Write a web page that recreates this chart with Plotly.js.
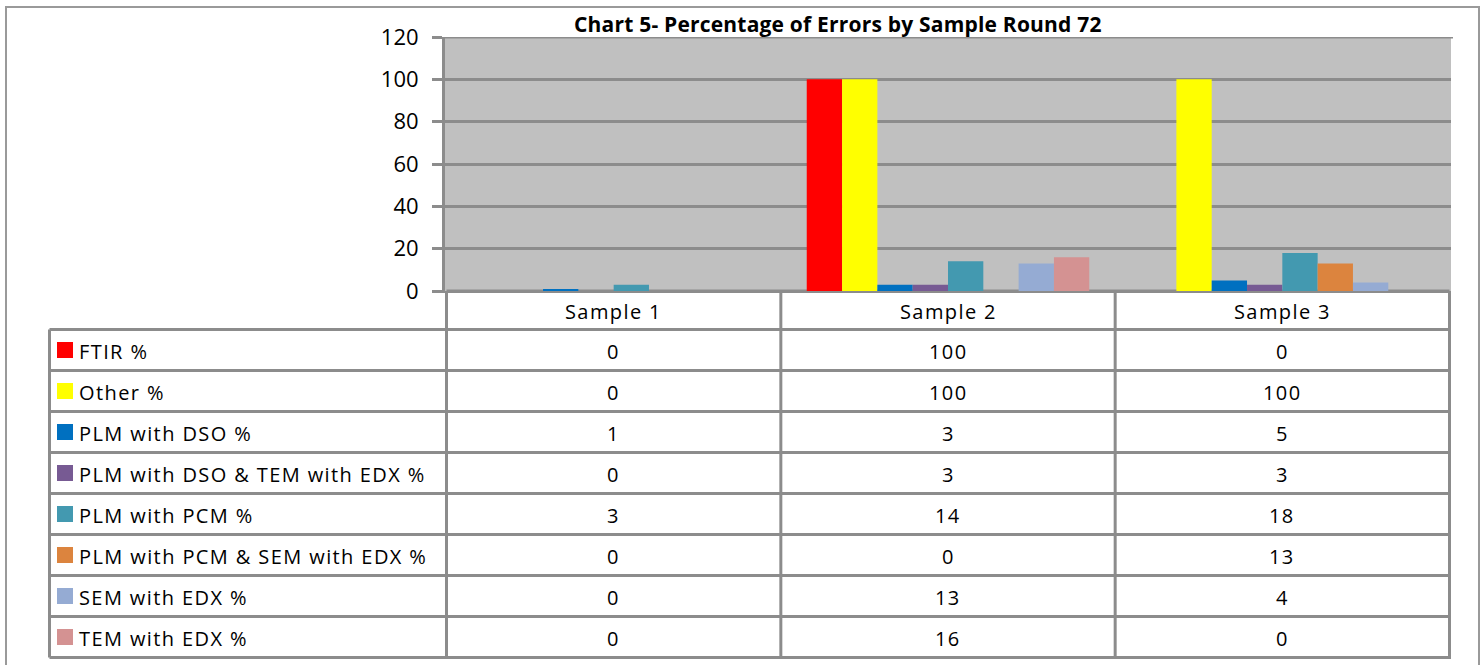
<!DOCTYPE html>
<html>
<head>
<meta charset="utf-8">
<script src="https://cdn.plot.ly/plotly-3.0.1.min.js"></script>
<style>
html,body{margin:0;padding:0;background:#fff;}
#chart{width:1482px;height:665px;}
.annotation-text{letter-spacing:1.4px;}
</style>
</head>
<body>
<div id="chart"></div>
<script>
const chartTitle = 'Chart 5- Percentage of Errors by Sample Round 72';
const categories = ['Sample 1', 'Sample 2', 'Sample 3'];
const seriesNames = [
  'FTIR %',
  'Other %',
  'PLM with DSO %',
  'PLM with DSO & TEM with EDX %',
  'PLM with PCM %',
  'PLM with PCM & SEM with EDX %',
  'SEM with EDX %',
  'TEM with EDX %'
];
const ftir = [0, 100, 0];
const other = [0, 100, 100];
const plmDso = [1, 3, 5];
const plmDsoTem = [0, 3, 3];
const plmPcm = [3, 14, 18];
const plmPcmSem = [0, 0, 13];
const semEdx = [0, 13, 4];
const temEdx = [0, 16, 0];
const seriesValues = [ftir, other, plmDso, plmDsoTem, plmPcm, plmPcmSem, semEdx, temEdx];
const yTicks = [0, 20, 40, 60, 80, 100, 120];

const colors = ['#FF0000', '#FFFF00', '#0070C0', '#775A93', '#4399B0', '#DC843E', '#95ABD3', '#D49292'];

const FIG_W = 1482, FIG_H = 665;
const L = 445, R = 1451, T = 37, B = 291;
const W = R - L, H = B - T;
const px = x => (x - L) / W;
const py = y => (B - y) / H;
const LINE = '#8C8C8C';
const FONT = 'Open Sans, Liberation Sans, sans-serif';

const traces = seriesNames.map((name, i) => ({
  type: 'bar',
  name: name,
  x: categories,
  y: seriesValues[i],
  marker: {color: colors[i], line: {width: 0}},
  hoverinfo: 'x+y+name'
}));

const shapes = [];
const annotations = [];

// title
annotations.push({xref: 'paper', yref: 'paper', x: px(838), y: py(24),
  text: '<span style="letter-spacing:0.2px"><b>' + chartTitle + '</b></span>', showarrow: false,
  xanchor: 'center', yanchor: 'middle', font: {family: FONT, size: 21, color: '#000'}});

// outer chart border
shapes.push({type: 'rect', xref: 'paper', yref: 'paper', x0: px(6), x1: px(1479), y0: py(7), y1: py(672),
  line: {color: '#9A9A9A', width: 2}, fillcolor: 'rgba(0,0,0,0)', layer: 'below'});

// top gridline at 120
shapes.push({type: 'line', xref: 'paper', yref: 'y', x0: px(435), x1: px(1453), y0: 120, y1: 120,
  line: {color: LINE, width: 3}});

// zero line: part below the bars, part below the plot edge
shapes.push({type: 'line', xref: 'x', yref: 'y', x0: -0.5, x1: categories.length - 0.5, y0: 0, y1: 0,
  line: {color: LINE, width: 3}, layer: 'below'});
shapes.push({type: 'line', xref: 'paper', yref: 'paper', x0: px(435), x1: px(R), y0: py(B + 1), y1: py(B + 1),
  line: {color: LINE, width: 2}});

// table
const headerTop = B, headerBot = 329.5, rowH = 41;
const tableBottom = headerBot + rowH * seriesNames.length;
const legendLeft = 49.5;

for (let i = 0; i <= seriesNames.length; i++) {
  const yy = headerBot + rowH * i;
  shapes.push({type: 'line', xref: 'paper', yref: 'paper', x0: px(legendLeft), x1: px(R), y0: py(yy), y1: py(yy), line: {color: LINE, width: 3}});
}
shapes.push({type: 'line', xref: 'paper', yref: 'paper', x0: px(legendLeft), x1: px(legendLeft), y0: py(headerBot), y1: py(tableBottom), line: {color: LINE, width: 3}});
for (let k = 0; k <= categories.length; k++) {
  shapes.push({type: 'line', xref: 'x', yref: 'paper', x0: k - 0.5, x1: k - 0.5, y0: py(headerTop + 1.5), y1: py(tableBottom), line: {color: LINE, width: 3}});
}

categories.forEach((c, j) => {
  annotations.push({xref: 'x', yref: 'paper', x: j, y: py((headerTop + headerBot) / 2 + 1), text: c, showarrow: false,
    xanchor: 'center', yanchor: 'middle', font: {family: FONT, size: 20, color: '#000'}});
});

seriesNames.forEach((name, i) => {
  const top = headerBot + rowH * i;
  const mid = top + rowH / 2;
  shapes.push({type: 'rect', xref: 'paper', yref: 'paper', x0: px(57), x1: px(73), y0: py(mid - 8), y1: py(mid + 8),
    fillcolor: colors[i], line: {width: 0}});
  annotations.push({xref: 'paper', yref: 'paper', x: px(77), y: py(mid + 1), text: name, showarrow: false,
    xanchor: 'left', yanchor: 'middle', font: {family: FONT, size: 20, color: '#000'}});
  categories.forEach((c, j) => {
    annotations.push({xref: 'x', yref: 'paper', x: j, y: py(mid + 1), text: String(seriesValues[i][j]), showarrow: false,
      xanchor: 'center', yanchor: 'middle', font: {family: FONT, size: 20, color: '#000'}});
  });
});

const layout = {
  width: FIG_W, height: FIG_H,
  margin: {l: L, r: FIG_W - R, t: T, b: FIG_H - B, pad: 0},
  paper_bgcolor: '#FFFFFF',
  plot_bgcolor: '#C0C0C0',
  showlegend: false,
  barmode: 'group',
  bargap: 0.155,
  bargroupgap: 0,
  xaxis: {type: 'category', showticklabels: false, ticks: '', showgrid: false, zeroline: false, showline: false, fixedrange: true},
  yaxis: {range: [0, 120], tickvals: yTicks, ticktext: yTicks.map(String), ticks: 'outside', ticklen: 10, tickwidth: 3, tickcolor: LINE,
    showline: true, linecolor: LINE, linewidth: 3, gridcolor: LINE, gridwidth: 3, zeroline: false,
    ticklabelstandoff: 9, tickfont: {family: FONT, size: 22, color: '#000'}, fixedrange: true},
  shapes: shapes,
  annotations: annotations
};

Plotly.newPlot('chart', traces, layout, {displayModeBar: false, staticPlot: true});
</script>
</body>
</html>
